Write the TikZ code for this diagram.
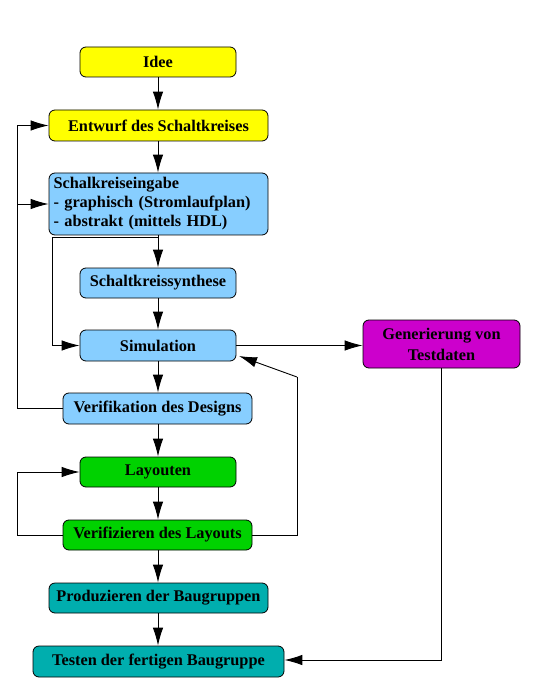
\documentclass[tikz,border=0pt]{standalone}
\usepackage{fontspec}
\setmainfont{Liberation Serif}
\usetikzlibrary{arrows.meta}
\definecolor{cyel}{RGB}{255,255,0}
\definecolor{cblue}{RGB}{135,206,255}
\definecolor{cmag}{RGB}{204,0,204}
\definecolor{cgreen}{RGB}{0,210,0}
\definecolor{cteal}{RGB}{0,174,174}
\tikzset{
  box/.style={draw=black, line width=0.8pt, rounded corners=6pt, inner sep=0pt,
    font=\fontsize{16.3}{20}\selectfont\bfseries, align=center},
  conn/.style={line width=0.9pt, -{Latex[length=18pt,width=10.5pt]}},
  plain/.style={line width=0.9pt}
}
\begin{document}
\begin{tikzpicture}[x=1pt,y=-1pt]
\useasboundingbox (0,0) rectangle (557,692);
\node[box, fill=cyel, minimum width=156pt, minimum height=30pt] (idee) at (158,62) {Idee};
\node[box, fill=cyel, minimum width=219pt, minimum height=31pt] (entwurf) at (158.5,125.5) {Entwurf des Schaltkreises};
\node[box, fill=cblue, minimum width=219pt, minimum height=62pt, text width=210pt, inner xsep=4.5pt, align=left, font=\fontsize{16.3}{19}\selectfont\bfseries] (eingabe) at (158.5,204) {Schalkreiseingabe\\- graphisch (Stromlaufplan)\\- abstrakt (mittels HDL)};
\node[box, fill=cblue, minimum width=156pt, minimum height=30pt] (synth) at (158,283) {Schaltkreissynthese};
\node[box, fill=cblue, minimum width=156pt, minimum height=31pt] (sim) at (158,345.5) {Simulation};
\node[box, fill=cmag, minimum width=157pt, minimum height=48pt, font=\fontsize{16.3}{21}\selectfont\bfseries] (gen) at (441.5,344) {Generierung von\\Testdaten};
\node[box, fill=cblue, minimum width=189pt, minimum height=31pt] (verd) at (157.5,408.5) {Verifikation des Designs};
\node[box, fill=cgreen, minimum width=156pt, minimum height=30pt] (lay) at (158,472) {Layouten};
\node[box, fill=cgreen, minimum width=189pt, minimum height=30pt] (verl) at (157.5,535) {Verifizieren des Layouts};
\node[box, fill=cteal, minimum width=219pt, minimum height=30pt] (prod) at (158.5,598) {Produzieren der Baugruppen};
\node[box, fill=cteal, minimum width=251pt, minimum height=31pt] (test) at (158.5,661.5) {Testen der fertigen Baugruppe};

\coordinate (ebr) at (158,237);
\coordinate (simse) at (239,356);

\draw[conn] (idee.south -| 158,0) -- (entwurf.north -| 158,0);
\draw[conn] (entwurf.south -| 158,0) -- (eingabe.north -| 158,0);
\draw[conn] (eingabe.south -| 158,0) -- (synth.north);
\draw[conn] (synth) -- (sim);
\draw[conn] (sim) -- (verd.north -| 158,0);
\draw[conn] (verd.south -| 158,0) -- (lay.north);
\draw[conn] (lay) -- (verl.north -| 158,0);
\draw[conn] (verl.south -| 158,0) -- (prod.north -| 158,0);
\draw[conn] (prod.south -| 158,0) -- (test.north -| 158,0);

\draw[plain] (verd.west) -- (17,408.5) -- (17,125.5);
\draw[conn] (17,125.5) -- (entwurf.west);
\draw[conn] (17,204) -- (eingabe.west);
\draw[plain] (ebr) -- (52,237) -- (52,345.5);
\draw[conn] (52,345.5) -- (sim.west);
\draw[conn] (sim.east) -- (gen.west |- sim.east);
\draw[plain] (verl.east) -- (297,535) -- (297,377);
\draw[conn] (297,377) -- (simse);
\draw[plain] (verl.west) -- (17,535) -- (17,472);
\draw[conn] (17,472) -- (lay.west);
\draw[plain] (gen.south) -- (441.5,660);
\draw[conn] (441.5,660) -- (test.east |- 0,660);
\end{tikzpicture}
\end{document}
